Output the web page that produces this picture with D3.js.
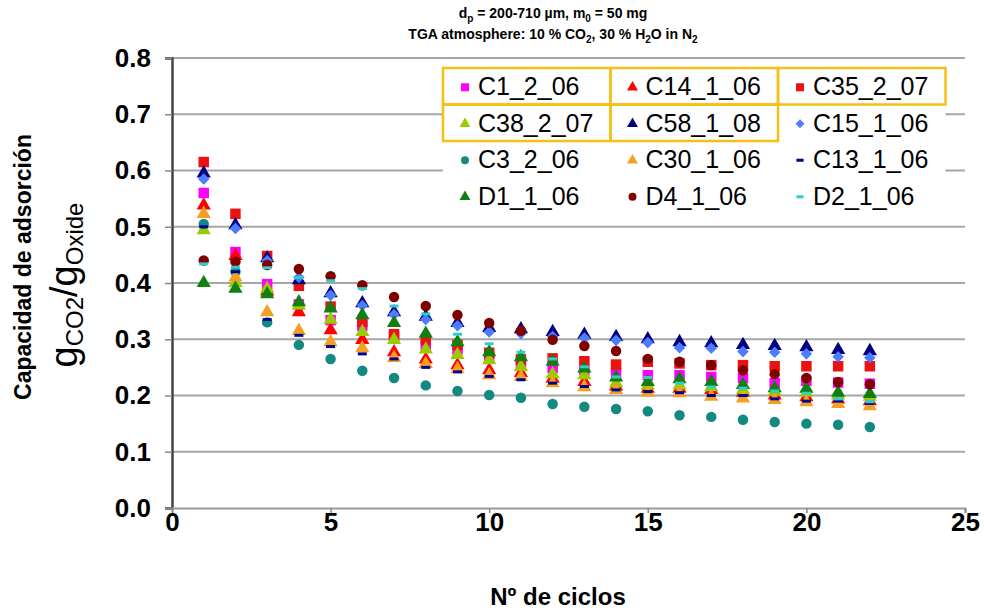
<!DOCTYPE html>
<html>
<head>
<meta charset="utf-8">
<script src="https://cdn.jsdelivr.net/npm/d3@7"></script>
<style>
  body { margin: 0; background: #fff; }
  svg { font-family: "Liberation Sans", Arial, sans-serif; }
</style>
</head>
<body>
<svg id="chart" width="984" height="611"></svg>
<script>
  // ciclos 1..22
  var cycles = d3.range(1, 23);

  var seriesNames = ['C1_2_06', 'C14_1_06', 'C35_2_07', 'C38_2_07', 'C58_1_08', 'C15_1_06',
                     'C3_2_06', 'C30_1_06', 'C13_1_06', 'D1_1_06', 'D4_1_06', 'D2_1_06'];
  var seriesColors = ['#ff00ff', '#ff0000', '#ee1111', '#99cc00', '#000080', '#4d7cff',
                      '#138a80', '#f5a020', '#000099', '#108010', '#800000', '#33cccc'];
  var seriesShapes = ['square', 'triangle', 'square', 'triangle', 'triangle', 'diamond',
                      'circle', 'triangle', 'dash', 'triangle', 'circle', 'dash'];
  // celdas de la leyenda marcadas en amarillo
  var highlighted = ['C1_2_06', 'C14_1_06', 'C35_2_07', 'C38_2_07', 'C58_1_08'];

  var C1_2_06  = [0.560, 0.455, 0.398, 0.362, 0.334, 0.324, 0.305, 0.290, 0.281, 0.267, 0.257, 0.249, 0.245, 0.240, 0.236, 0.236, 0.233, 0.231, 0.222, 0.226, 0.223, 0.221];
  var C14_1_06 = [0.538, 0.448, 0.385, 0.348, 0.316, 0.299, 0.277, 0.264, 0.254, 0.245, 0.240, 0.230, 0.224, 0.216, 0.212, 0.212, 0.210, 0.205, 0.200, 0.197, 0.193, 0.190];
  var C35_2_07 = [0.615, 0.523, 0.448, 0.395, 0.358, 0.331, 0.309, 0.299, 0.290, 0.276, 0.264, 0.266, 0.261, 0.255, 0.260, 0.257, 0.254, 0.254, 0.252, 0.252, 0.252, 0.252];
  var C38_2_07 = [0.494, 0.400, 0.390, 0.360, 0.335, 0.313, 0.299, 0.282, 0.272, 0.263, 0.251, 0.238, 0.236, 0.222, 0.218, 0.218, 0.215, 0.210, 0.207, 0.205, 0.200, 0.198];
  var C58_1_08 = [0.595, 0.503, 0.444, 0.405, 0.382, 0.364, 0.348, 0.340, 0.329, 0.320, 0.318, 0.313, 0.308, 0.304, 0.300, 0.295, 0.293, 0.290, 0.288, 0.286, 0.281, 0.279];
  var C15_1_06 = [0.585, 0.497, 0.440, 0.410, 0.378, 0.360, 0.344, 0.335, 0.324, 0.313, 0.310, 0.305, 0.302, 0.298, 0.294, 0.285, 0.284, 0.278, 0.277, 0.274, 0.269, 0.267];
  var C3_2_06  = [0.505, 0.420, 0.330, 0.290, 0.265, 0.244, 0.231, 0.218, 0.208, 0.201, 0.196, 0.185, 0.180, 0.176, 0.172, 0.165, 0.162, 0.157, 0.153, 0.150, 0.148, 0.144];
  var C30_1_06 = [0.523, 0.410, 0.348, 0.315, 0.295, 0.284, 0.267, 0.256, 0.247, 0.236, 0.233, 0.222, 0.215, 0.210, 0.205, 0.204, 0.198, 0.195, 0.192, 0.188, 0.185, 0.181];
  var C13_1_06 = [0.500, 0.420, 0.335, 0.307, 0.287, 0.274, 0.265, 0.250, 0.242, 0.234, 0.228, 0.222, 0.216, 0.210, 0.207, 0.205, 0.200, 0.200, 0.194, 0.190, 0.190, 0.186];
  var D1_1_06  = [0.400, 0.390, 0.380, 0.366, 0.355, 0.343, 0.329, 0.310, 0.295, 0.277, 0.268, 0.260, 0.248, 0.232, 0.224, 0.229, 0.224, 0.219, 0.213, 0.212, 0.205, 0.203];
  var D4_1_06  = [0.440, 0.438, 0.432, 0.425, 0.412, 0.396, 0.375, 0.359, 0.343, 0.329, 0.315, 0.299, 0.288, 0.279, 0.265, 0.260, 0.254, 0.245, 0.238, 0.231, 0.224, 0.220];
  var D2_1_06  = [0.434, 0.428, 0.427, 0.410, 0.404, 0.390, 0.359, 0.345, 0.309, 0.292, 0.277, 0.265, 0.251, 0.233, 0.232, 0.222, 0.215, 0.213, 0.208, 0.204, 0.194, 0.189];

  var seriesValues = [C1_2_06, C14_1_06, C35_2_07, C38_2_07, C58_1_08, C15_1_06,
                      C3_2_06, C30_1_06, C13_1_06, D1_1_06, D4_1_06, D2_1_06];

  var xTicks = [0, 5, 10, 15, 20, 25];
  var yTicks = [0.0, 0.1, 0.2, 0.3, 0.4, 0.5, 0.6, 0.7, 0.8];

  var svg = d3.select('#chart');
  var plotL = 172, plotR = 965, plotT = 58, plotB = 508;

  var x = d3.scaleLinear().domain([0, 25]).range([plotL, plotR]);
  var y = d3.scaleLinear().domain([0, 0.8]).range([plotB, plotT]);

  // rejilla
  svg.append('g').selectAll('line').data(yTicks.slice(1)).enter()
    .append('line')
    .attr('x1', plotL).attr('x2', plotR)
    .attr('y1', function(d) { return y(d); })
    .attr('y2', function(d) { return y(d); })
    .attr('stroke', '#a6a6a6').attr('stroke-width', 2);

  // ejes
  var yAxis = svg.append('g').attr('transform', 'translate(' + plotL + ',0)')
    .call(d3.axisLeft(y).tickValues(yTicks).tickFormat(d3.format('.1f')).tickSize(7).tickPadding(14));
  var xAxis = svg.append('g').attr('transform', 'translate(0,' + plotB + ')')
    .call(d3.axisBottom(x).tickValues(xTicks).tickSize(5).tickPadding(0));

  [yAxis, xAxis].forEach(function(ax) {
    ax.selectAll('text').attr('font-size', 26).attr('font-weight', 'bold').attr('fill', '#000')
      .attr('font-family', '"Liberation Sans", Arial, sans-serif');
    ax.selectAll('.tick line').attr('stroke', '#888').attr('stroke-width', 1.5);
  });
  yAxis.select('.domain').attr('stroke', '#444').attr('stroke-width', 2.5);
  xAxis.select('.domain').attr('stroke', '#999').attr('stroke-width', 2);

  // marcadores
  function markerPath(shape, s) {
    if (shape == 'square') return d3.symbol().type(d3.symbolSquare).size(s * s)();
    if (shape == 'triangle') return d3.symbol().type(d3.symbolTriangle).size(s * s * 0.52)();
    if (shape == 'circle') return d3.symbol().type(d3.symbolCircle).size(s * s * 0.785)();
    if (shape == 'diamond') return d3.symbol().type(d3.symbolSquare).size(s * s * 0.6)();
    return 'M' + (-s * 0.45) + ',-1.5h' + (s * 0.9) + 'v3h' + (-s * 0.9) + 'z';
  }

  seriesNames.forEach(function(name, i) {
    var shape = seriesShapes[i];
    var size = shape == 'triangle' ? 13 : (shape == 'dash' ? 10 : 10.5);
    svg.append('g').selectAll('path').data(seriesValues[i]).enter()
      .append('path')
      .attr('d', markerPath(shape, size))
      .attr('transform', function(d, j) {
        return 'translate(' + x(cycles[j]) + ',' + y(d) + ')' + (shape == 'diamond' ? ' rotate(45)' : '');
      })
      .attr('fill', seriesColors[i]);
  });

  // leyenda
  var legX = 443, legY = 68, cellW = 167.5, cellH = 36.5;
  var legend = svg.append('g');
  legend.append('rect').attr('x', legX).attr('y', legY)
    .attr('width', cellW * 3).attr('height', cellH * 4 + 2).attr('fill', '#fff');

  seriesNames.forEach(function(name, i) {
    var cx = legX + (i % 3) * cellW, cy = legY + Math.floor(i / 3) * cellH;
    var shape = seriesShapes[i];
    legend.append('path')
      .attr('d', markerPath(shape, shape == 'triangle' ? 10 : 8))
      .attr('transform', 'translate(' + (cx + 22) + ',' + (cy + cellH / 2 + 1) + ')' + (shape == 'diamond' ? ' rotate(45)' : ''))
      .attr('fill', seriesColors[i]);
    legend.append('text')
      .attr('x', cx + 35).attr('y', cy + cellH / 2 + 9)
      .attr('font-size', 25).attr('fill', '#000')
      .text(name);
    if (highlighted.indexOf(name) >= 0) {
      legend.append('rect').attr('x', cx).attr('y', cy)
        .attr('width', cellW).attr('height', cellH)
        .attr('fill', 'none').attr('stroke', '#f5c010').attr('stroke-width', 2.5);
    }
  });

  // titulo
  var title = svg.append('g').attr('font-size', 14).attr('font-weight', 'bold').attr('text-anchor', 'middle');
  var t1 = title.append('text').attr('x', 553).attr('y', 18);
  t1.append('tspan').text('d');
  t1.append('tspan').attr('font-size', 10).attr('dy', 4).text('p');
  t1.append('tspan').attr('dy', -4).text(' = 200-710 µm, m');
  t1.append('tspan').attr('font-size', 10).attr('dy', 4).text('0');
  t1.append('tspan').attr('dy', -4).text(' = 50 mg');
  var t2 = title.append('text').attr('x', 553).attr('y', 39);
  t2.append('tspan').text('TGA atmosphere: 10 % CO');
  t2.append('tspan').attr('font-size', 10).attr('dy', 4).text('2');
  t2.append('tspan').attr('dy', -4).text(', 30 % H');
  t2.append('tspan').attr('font-size', 10).attr('dy', 4).text('2');
  t2.append('tspan').attr('dy', -4).text('O in N');
  t2.append('tspan').attr('font-size', 10).attr('dy', 4).text('2');

  // titulos de ejes
  svg.append('text').attr('x', 558).attr('y', 605).attr('text-anchor', 'middle')
    .attr('font-size', 24).attr('font-weight', 'bold').text('Nº de ciclos');

  svg.append('text').attr('transform', 'translate(31,267) rotate(-90)').attr('text-anchor', 'middle')
    .attr('font-size', 23).attr('font-weight', 'bold').text('Capacidad de adsorción');

  var yl = svg.append('text').attr('transform', 'translate(77,285) rotate(-90)').attr('text-anchor', 'middle');
  yl.append('tspan').attr('font-size', 38).text('g');
  yl.append('tspan').attr('font-size', 24).attr('dy', 6).text('CO2');
  yl.append('tspan').attr('font-size', 38).attr('dy', -6).text('/g');
  yl.append('tspan').attr('font-size', 24).attr('dy', 6).text('Oxide');
</script>
</body>
</html>
